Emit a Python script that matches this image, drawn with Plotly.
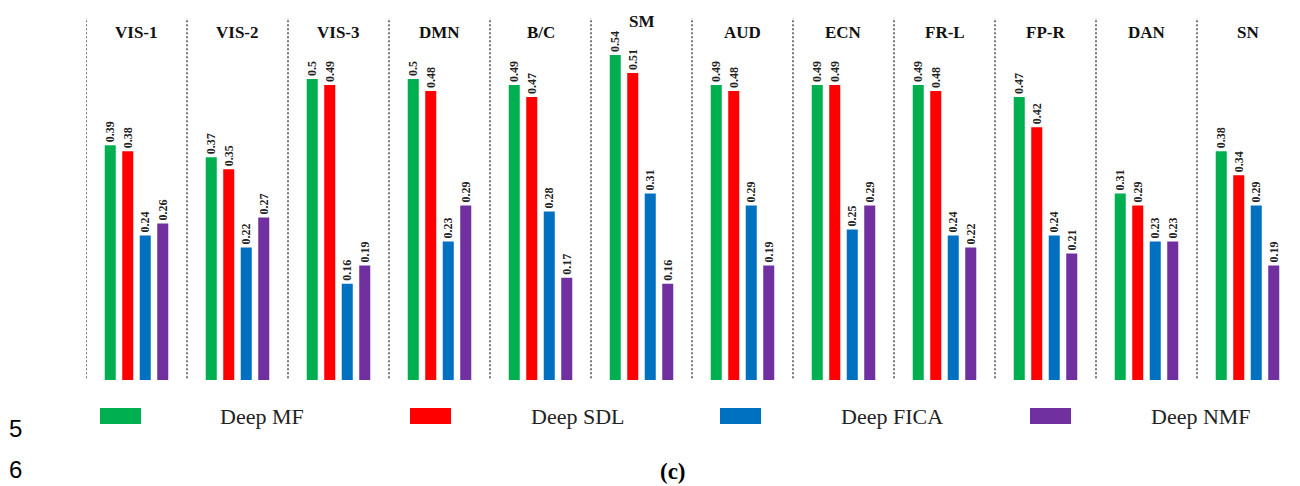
import plotly.graph_objects as go

categories = ["VIS-1", "VIS-2", "VIS-3", "DMN", "B/C", "SM", "AUD", "ECN", "FR-L", "FP-R", "DAN", "SN"]
deep_mf = [0.39, 0.37, 0.5, 0.5, 0.49, 0.54, 0.49, 0.49, 0.49, 0.47, 0.31, 0.38]
deep_sdl = [0.38, 0.35, 0.49, 0.48, 0.47, 0.51, 0.48, 0.49, 0.48, 0.42, 0.29, 0.34]
deep_fica = [0.24, 0.22, 0.16, 0.23, 0.28, 0.31, 0.29, 0.25, 0.24, 0.24, 0.23, 0.29]
deep_nmf = [0.26, 0.27, 0.19, 0.29, 0.17, 0.16, 0.19, 0.29, 0.22, 0.21, 0.23, 0.19]
series_names = ["Deep MF", "Deep SDL", "Deep FICA", "Deep NMF"]
colors = ["#00B050", "#FF0000", "#0070C0", "#7030A0"]

OFF = 8  # default page body margin
W, H = 1300 - OFF, 486 - OFF
# page-pixel layout targets
PL, PR, PT, PB = 86, 1298, 18, 380
L, T = PL - OFF, PT - OFF
R = W - (PR - OFF)
B = H - (PB - OFF)
PW, PH = PR - PL, PB - PT
YMAX = PH / 602.0

def px(x):
    return (x - PL) / PW

def py(y):
    return (PB - y) / PH

SERIF = "Liberation Serif, Times New Roman, serif"

fig = go.Figure()
for name, vals, col in zip(series_names, [deep_mf, deep_sdl, deep_fica, deep_nmf], colors):
    fig.add_trace(go.Bar(
        x=categories, y=vals, name=name,
        marker=dict(color=col, line=dict(width=0)),
        text=[f"<b>{v:g}</b>" for v in vals],
        textposition="outside", textangle=-90,
        textfont=dict(family=SERIF, size=12, color="#222"),
        constraintext="none", cliponaxis=False,
        showlegend=False,
    ))

shapes = []
for i in range(len(categories) + 1):
    shapes.append(dict(type="line", xref="x", yref="paper", x0=i - 0.5, x1=i - 0.5,
                       y0=0.005, y1=1.0, line=dict(color="#777", width=2, dash="2px,2px")))

annotations = []
all_series = [deep_mf, deep_sdl, deep_fica, deep_nmf]
for i, c in enumerate(categories):
    top = max(s[i] for s in all_series)
    ylab = max(0.578, top + 0.055)
    annotations.append(dict(x=c, y=ylab, xref="x", yref="y", text=f"<b>{c}</b>", showarrow=False,
                            font=dict(family=SERIF, size=17, color="#111"), yanchor="middle"))

# legend drawn manually
leg_rect_x = [100, 410, 720, 1030]
leg_text_x = [262, 577, 892, 1201]
for rx, tx, name, col in zip(leg_rect_x, leg_text_x, series_names, colors):
    shapes.append(dict(type="rect", xref="paper", yref="paper", x0=px(rx), x1=px(rx + 41),
                       y0=py(424), y1=py(408), fillcolor=col, line=dict(width=0)))
    annotations.append(dict(x=px(tx), y=py(416), xref="paper", yref="paper", text=name, showarrow=False,
                            font=dict(family=SERIF, size=22, color="#222"), xanchor="center", yanchor="middle"))

annotations.append(dict(x=px(673), y=py(471), xref="paper", yref="paper", text="<b>(c)</b>", showarrow=False,
                        font=dict(family=SERIF, size=23, color="#000"), xanchor="center", yanchor="middle"))
for t, yy in [("5", 428), ("6", 470)]:
    annotations.append(dict(x=px(15), y=py(yy), xref="paper", yref="paper", text=t, showarrow=False,
                            font=dict(family="Liberation Sans, Arial, sans-serif", size=24, color="#000"),
                            xanchor="center", yanchor="middle"))

fig.update_layout(
    width=W, height=H,
    margin=dict(l=L, r=R, t=T, b=B, pad=0),
    paper_bgcolor="white", plot_bgcolor="white",
    barmode="group", bargap=0.307, bargroupgap=0.37,
    xaxis=dict(showticklabels=False, showgrid=False, zeroline=False, showline=False,
               range=[-0.5, len(categories) - 0.5]),
    yaxis=dict(showticklabels=False, showgrid=False, zeroline=False, showline=False,
               range=[0, YMAX]),
    shapes=shapes, annotations=annotations,
)

fig.write_html("out.html")
